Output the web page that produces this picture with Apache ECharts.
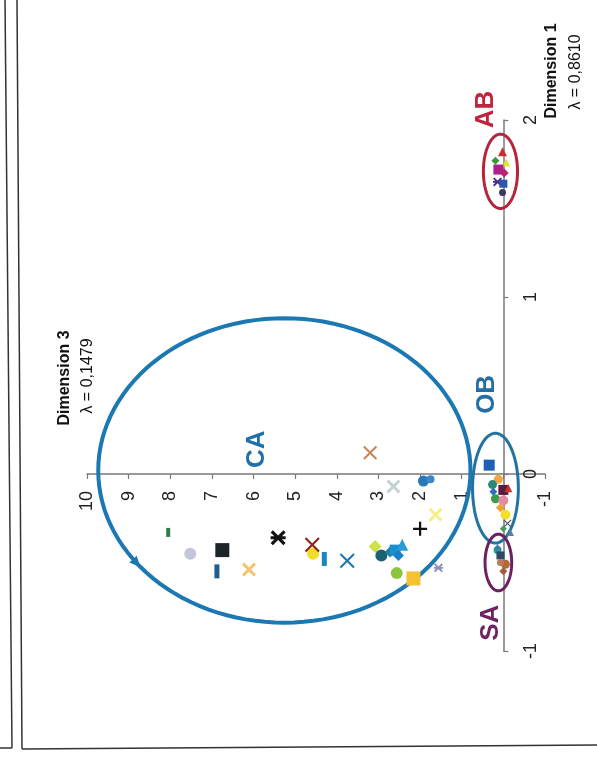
<!DOCTYPE html>
<html>
<head>
<meta charset="utf-8">
<script src="https://cdn.jsdelivr.net/npm/echarts@6/dist/echarts.min.js"></script>
<style>
  html, body { margin: 0; padding: 0; background: #ffffff; }
  #chart { width: 597px; height: 782px; }
</style>
</head>
<body>
<div id="chart"></div>
<script>
// Correspondence map, Dimension 3 (x, drawn right-to-left) against Dimension 1 (y).
// Each point is [dimension3, dimension1].

const dim3Ticks = [-1, 1, 2, 3, 4, 5, 6, 7, 8, 9, 10];
const dim1Ticks = [-1, 0, 1, 2];

// CA group
const caValues = [
  [8.05, -0.33], [7.52, -0.45], [6.75, -0.43], [6.88, -0.55], [6.11, -0.54],
  [5.41, -0.36], [4.57, -0.45], [4.59, -0.40], [4.30, -0.48], [3.75, -0.49],
  [3.08, -0.41], [2.93, -0.46], [2.72, -0.44], [2.60, -0.43], [2.43, -0.40],
  [2.52, -0.46], [2.56, -0.56], [2.16, -0.59], [2.00, -0.31], [1.63, -0.23],
  [1.56, -0.53], [2.64, -0.07], [1.92, -0.04], [1.75, -0.03], [3.20, 0.12]
];
// OB group
const obValues = [
  [0.34, 0.05], [0.12, -0.03], [0.26, -0.06], [0.24, -0.10], [0.00, -0.09],
  [-0.12, -0.08], [0.19, -0.14], [0.00, -0.15], [0.07, -0.19], [-0.05, -0.23],
  [-0.10, -0.28], [0.00, -0.31], [-0.17, -0.33]
];
// SA group
const saValues = [
  [0.14, -0.43], [0.07, -0.46], [-0.05, -0.51], [0.00, -0.55], [0.07, -0.50], [0.14, -0.41]
];
// AB group
const abValues = [
  [0.02, 1.82], [0.19, 1.77], [-0.07, 1.76], [0.12, 1.72], [-0.02, 1.70],
  [0.14, 1.65], [0.00, 1.64], [0.02, 1.59]
];

// Group outlines: [centre dim3, centre dim1, half-width dim3, half-height dim1]
const groupEllipses = [
  [5.26, 0.02, 4.47, 0.86],
  [0.19, -0.08, 0.55, 0.31],
  [0.12, -0.50, 0.32, 0.16],
  [0.07, 1.71, 0.41, 0.21]
];
const groupNames = ['CA', 'OB', 'SA', 'AB'];
const groupLabelAt = [[5.91, 0.14], [0.39, 0.45], [0.31, -0.84], [0.41, 2.06]];

// ---- styling (kept apart from the values) ----
const ellipseColors = ['#1b78b3', '#23739f', '#6b2160', '#b3263e'];
const ellipseWidths = [4, 3, 3, 3];
const labelColors = ['#1f6fa8', '#236ea3', '#6e2463', '#c0253f'];

const SYM = {
  x: 'path://M0,1.5 L1.5,0 L5,3.5 L8.5,0 L10,1.5 L6.5,5 L10,8.5 L8.5,10 L5,6.5 L1.5,10 L0,8.5 L3.5,5 Z',
  xThin: 'path://M0,1 L1,0 L5,4 L9,0 L10,1 L6,5 L10,9 L9,10 L5,6 L1,10 L0,9 L4,5 Z',
  aster: 'path://M0,1.5 L1.5,0 L5,3.5 L8.5,0 L10,1.5 L6.5,5 L10,8.5 L8.5,10 L5,6.5 L1.5,10 L0,8.5 L3.5,5 Z M0,4 L10,4 L10,6 L0,6 Z',
  plus: 'path://M4.2,0 L5.8,0 L5.8,4.2 L10,4.2 L10,5.8 L5.8,5.8 L5.8,10 L4.2,10 L4.2,5.8 L0,5.8 L0,4.2 L4.2,4.2 Z',
  bar: 'rect', square: 'rect', circle: 'circle', diamond: 'diamond', triangle: 'triangle'
};

const caStyle = [
  ['bar', '#2e7d4f', [4, 9]], ['circle', '#c4c4dc', 12], ['square', '#1c2628', 14], ['bar', '#1d5f8f', [5, 14]],
  ['x', '#f3c46a', 14], ['aster', '#111111', 15], ['circle', '#f2dc2a', 12], ['xThin', '#8e2414', 15],
  ['bar', '#1b86c0', [5, 14]], ['xThin', '#1f79ae', 15], ['diamond', '#cfe04a', 13], ['circle', '#1c6372', 12],
  ['diamond', '#1f7f98', 11], ['square', '#1a8fd0', 11], ['triangle', '#2a9ad8', 12], ['diamond', '#1a80c8', 11],
  ['circle', '#8cc63f', 12], ['square', '#f5c235', 14], ['plus', '#111111', 14], ['x', '#f4ef8c', 14],
  ['aster', '#8a90c0', 9], ['x', '#c5d3d3', 14], ['circle', '#2a78b8', 11], ['circle', '#3a88c8', 8],
  ['xThin', '#c8845a', 14]
];
const obStyle = [
  ['square', '#1f5fb5', 11], ['circle', '#f2a541', 9], ['circle', '#2a8a7a', 9], ['diamond', '#2c6fc0', 8],
  ['square', '#5a1a3a', 10], ['triangle', '#c83030', 8], ['circle', '#3c9a4a', 9], ['circle', '#e58aa5', 10],
  ['diamond', '#f0a030', 9], ['circle', '#f3e02a', 10], ['xThin', '#445566', 8], ['diamond', '#4a9a5a', 7],
  ['triangle', '#5a80a0', 7]
];
const saStyle = [
  ['circle', '#2a9a9a', 8], ['square', '#2a4a6a', 8], ['circle', '#b06a3a', 9],
  ['diamond', '#a05a40', 8], ['circle', '#c07a5a', 7], ['triangle', '#3a7ab0', 6]
];
const abStyle = [
  ['triangle', '#c8302a', 9], ['diamond', '#3a9a3a', 8], ['triangle', '#e8e030', 8], ['square', '#b0208a', 10],
  ['diamond', '#c02070', 9], ['aster', '#4a2a8a', 9], ['square', '#2a5ab0', 8], ['circle', '#3a3a6a', 7]
];

function pointSeries(values, styles) {
  return {
    type: 'scatter',
    z: 3,
    silent: true,
    data: values.map((v, i) => ({
      value: v,
      symbol: SYM[styles[i][0]],
      symbolSize: styles[i][2],
      itemStyle: { color: styles[i][1], opacity: 1 }
    }))
  };
}

const FONT = '"Liberation Sans", Arial, sans-serif';

// plot box
const GRID = { left: 87, right: 52, top: 120, bottom: 131 };
const W = 597, H = 782;
const X_MIN = -1, X_MAX = 10, Y_MIN = -1, Y_MAX = 2;
// shift each axis from the grid edge onto the other axis's zero
const pxPerX = (W - GRID.left - GRID.right) / (X_MAX - X_MIN);
const pxPerY = (H - GRID.top - GRID.bottom) / (Y_MAX - Y_MIN);
const xAxisOffset = -(0 - Y_MIN) * pxPerY;   // from bottom edge up to dim1 = 0
const yAxisOffset = -(0 - X_MIN) * pxPerX;   // from right edge (dim3 = -1) to dim3 = 0

const chart = echarts.init(document.getElementById('chart'), null, { renderer: 'canvas' });

const option = {
  backgroundColor: '#ffffff',
  animation: false,
  grid: Object.assign({ containLabel: false }, GRID),
  xAxis: {
    type: 'value', min: X_MIN, max: X_MAX, interval: 1, inverse: true,
    position: 'bottom', offset: xAxisOffset,
    axisLine: { onZero: false, lineStyle: { color: '#7a7a7a', width: 1.5 } },
    axisTick: { show: true, length: 5, lineStyle: { color: '#7a7a7a', width: 1.2 } },
    axisLabel: {
      rotate: 90, margin: 17, fontSize: 18, color: '#222', fontFamily: FONT,
      formatter: v => (dim3Ticks.indexOf(v) >= 0 ? String(v) : '')
    },
    splitLine: { show: false }
  },
  yAxis: {
    type: 'value', min: Y_MIN, max: Y_MAX, interval: 1,
    position: 'right', offset: yAxisOffset,
    axisLine: { onZero: false, lineStyle: { color: '#7a7a7a', width: 1.5 } },
    axisTick: { show: true, length: 5, lineStyle: { color: '#7a7a7a', width: 1.2 } },
    axisLabel: {
      rotate: 90, margin: 19, fontSize: 18, color: '#222', fontFamily: FONT,
      formatter: v => (dim1Ticks.indexOf(v) >= 0 ? String(v) : '')
    },
    splitLine: { show: false }
  },
  graphic: [
    // page frame
    { type: 'line', shape: { x1: 5, y1: 0, x2: 12, y2: 748 }, style: { stroke: '#333', lineWidth: 1.5 } },
    { type: 'line', shape: { x1: 0, y1: 748, x2: 12, y2: 748 }, style: { stroke: '#333', lineWidth: 1.5 } },
    { type: 'line', shape: { x1: 17, y1: 0, x2: 22, y2: 749 }, style: { stroke: '#333', lineWidth: 1.5 } },
    { type: 'line', shape: { x1: 22, y1: 749, x2: 597, y2: 745 }, style: { stroke: '#333', lineWidth: 1.5 } },
    // axis titles
    { type: 'text', x: 65, y: 378, rotation: Math.PI / 2,
      style: { text: 'Dimension 3', font: 'bold 16px ' + FONT, fill: '#111', align: 'center', verticalAlign: 'middle', textAlign: 'center', textVerticalAlign: 'middle' } },
    { type: 'text', x: 88, y: 376, rotation: Math.PI / 2,
      style: { text: 'λ = 0,1479', font: '16px ' + FONT, fill: '#111', align: 'center', verticalAlign: 'middle', textAlign: 'center', textVerticalAlign: 'middle' } },
    { type: 'text', x: 552, y: 71, rotation: Math.PI / 2,
      style: { text: 'Dimension 1', font: 'bold 16px ' + FONT, fill: '#111', align: 'center', verticalAlign: 'middle', textAlign: 'center', textVerticalAlign: 'middle' } },
    { type: 'text', x: 576, y: 72, rotation: Math.PI / 2,
      style: { text: 'λ = 0,8610', font: '16px ' + FONT, fill: '#111', align: 'center', verticalAlign: 'middle', textAlign: 'center', textVerticalAlign: 'middle' } }
  ],
  series: [
    // group outlines
    {
      type: 'custom',
      z: 2,
      silent: true,
      clip: false,
      data: groupEllipses,
      renderItem: function (params, api) {
        const c = api.coord([api.value(0), api.value(1)]);
        const s = api.size([api.value(2), api.value(3)]);
        const rx = Math.abs(s[0]), ry = Math.abs(s[1]);
        const pts = [];
        for (let k = 0; k < 120; k++) {
          const t = (k / 120) * Math.PI * 2;
          pts.push([c[0] + rx * Math.cos(t), c[1] + ry * Math.sin(t)]);
        }
        const idx = params.dataIndex;
        const children = [{
          type: 'polygon',
          shape: { points: pts },
          style: { fill: 'none', stroke: ellipseColors[idx], lineWidth: ellipseWidths[idx] }
        }];
        if (idx === 0) {
          // small arrow head where the outline was closed
          const t = 143 * Math.PI / 180;
          const px = c[0] + rx * Math.cos(t), py = c[1] + ry * Math.sin(t);
          let dx = rx * Math.sin(t), dy = -ry * Math.cos(t);
          const len = Math.hypot(dx, dy); dx /= len; dy /= len;
          const nx = -dy, ny = dx;
          children.push({
            type: 'polygon',
            shape: { points: [
              [px + dx * 7, py + dy * 7],
              [px - dx * 4 + nx * 5, py - dy * 4 + ny * 5],
              [px - dx * 4 - nx * 5, py - dy * 4 - ny * 5]
            ] },
            style: { fill: ellipseColors[0] }
          });
        }
        return { type: 'group', children: children };
      }
    },
    pointSeries(caValues, caStyle),
    pointSeries(obValues, obStyle),
    pointSeries(saValues, saStyle),
    pointSeries(abValues, abStyle),
    // group names
    {
      type: 'custom',
      z: 4,
      silent: true,
      clip: false,
      data: groupLabelAt,
      renderItem: function (params, api) {
        const p = api.coord([api.value(0), api.value(1)]);
        const i = params.dataIndex;
        return {
          type: 'text', x: p[0], y: p[1], rotation: Math.PI / 2,
          style: {
            text: groupNames[i], fill: labelColors[i], font: 'bold 26px ' + FONT,
            align: 'center', verticalAlign: 'middle', textAlign: 'center', textVerticalAlign: 'middle'
          }
        };
      }
    }
  ]
};

chart.setOption(option);
</script>
</body>
</html>
